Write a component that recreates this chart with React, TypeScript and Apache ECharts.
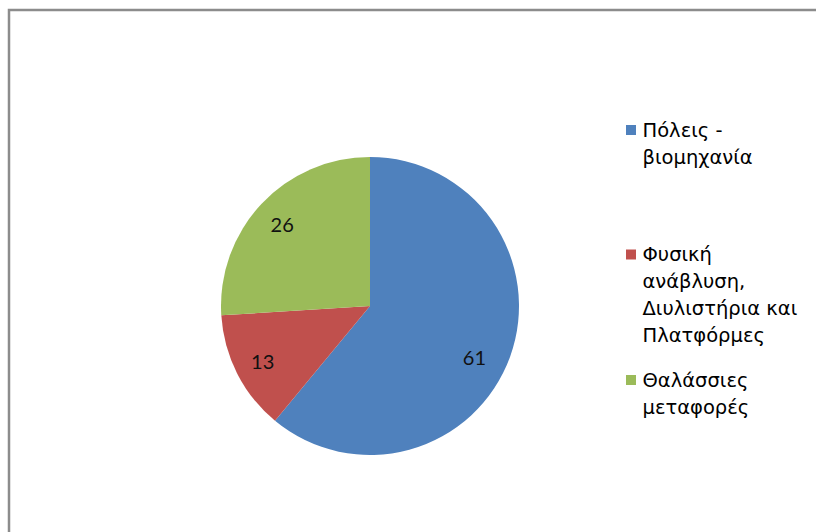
import React, { useEffect, useRef } from "react";
import * as echarts from "echarts";

const categories = [
  "Πόλεις - βιομηχανία",
  "Φυσική ανάβλυση, Διυλιστήρια και Πλατφόρμες",
  "Θαλάσσιες μεταφορές",
];
const legendLines = [
  ["Πόλεις -", "βιομηχανία"],
  ["Φυσική", "ανάβλυση,", "Διυλιστήρια και", "Πλατφόρμες"],
  ["Θαλάσσιες", "μεταφορές"],
];
const values = [61, 13, 26];
const colors = ["#4F81BD", "#C0504D", "#9BBB59"];

const LEGEND_LINE = 27;
const legendCenters = [130, 254.5, 380];

export default function App() {
  const ref = useRef<HTMLDivElement>(null);
  useEffect(() => {
    document.body.style.margin = "0";
    if (!ref.current) return;
    const chart = echarts.init(ref.current, undefined, { renderer: "svg" });
    const data = categories.map((name, i) => ({
      name,
      value: values[i],
      itemStyle: { color: colors[i] },
    }));
    const legends = categories.map((name, i) => {
      const n = legendLines[i].length;
      const half = ((2 * n - 1) * LEGEND_LINE) / 2;
      return {
        orient: "vertical",
        left: 626,
        top: legendCenters[i] - half,
        padding: 0,
        itemGap: 0,
        itemWidth: 13,
        itemHeight: 10,
        icon: "path://M0,0H10V10H0Z",
        data: [name],
        formatter: () => "\n".repeat(n - 1) + legendLines[i].join("\n"),
        textStyle: {
          fontFamily: "DejaVu Sans",
          fontSize: 19.5,
          lineHeight: LEGEND_LINE,
          color: "#000",
        },
      };
    });
    chart.setOption({
      animation: false,
      backgroundColor: "#fff",
      graphic: [
        {
          type: "rect",
          shape: { x: 9, y: 10, width: 1200, height: 1000 },
          style: { fill: "none", stroke: "#8c8c8c", lineWidth: 2.5 },
          silent: true,
          z: -1,
        },
      ],
      legend: legends,
      series: [
        {
          type: "pie",
          center: [370, 306],
          radius: 149,
          startAngle: 90,
          clockwise: true,
          label: { show: false },
          labelLine: { show: false },
          data,
        },
        {
          type: "pie",
          center: [370, 306],
          radius: [86, 149],
          startAngle: 90,
          clockwise: true,
          silent: true,
          itemStyle: { color: "transparent" },
          label: {
            show: true,
            position: "inside",
            formatter: "{c}",
            fontFamily: "Lato",
            fontSize: 20,
            color: "#111",
          },
          labelLine: { show: false },
          data: categories.map((name, i) => ({
            name,
            value: values[i],
            itemStyle: { color: "transparent" },
            label: i === 0 ? { offset: [-9, 10] } : undefined,
          })),
        },
      ],
    });
    return () => chart.dispose();
  }, []);
  return <div ref={ref} style={{ width: 816, height: 532 }} />;
}
